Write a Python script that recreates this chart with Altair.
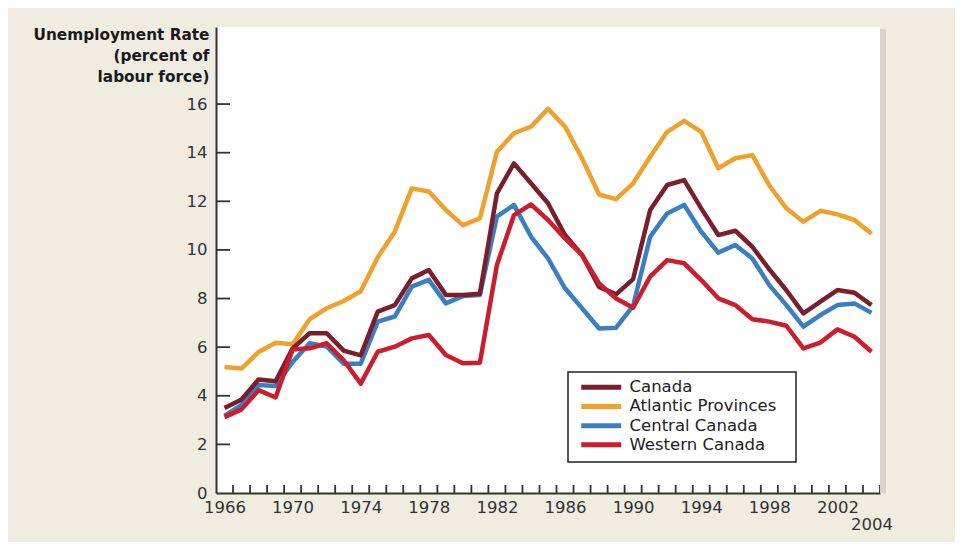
import altair as alt
import pandas as pd

# ---- data ----
years = list(range(1966, 2005))
canada = [3.5, 3.85, 4.67, 4.6, 5.95, 6.57, 6.57, 5.86, 5.66,
          7.46, 7.73, 8.83, 9.17, 8.15, 8.15, 8.2,
          12.33, 13.56, 12.74, 11.92, 10.61, 9.79, 8.48, 8.17,
          8.8, 11.64, 12.67, 12.87, 11.71, 10.61, 10.79, 10.13,
          9.2, 8.34, 7.39, 7.87, 8.35, 8.24, 7.73]
atlantic = [5.18, 5.12, 5.8, 6.18, 6.12, 7.15, 7.6, 7.9, 8.3,
            9.7, 10.75, 12.53, 12.4, 11.64, 11.02, 11.3,
            14.04, 14.8, 15.07, 15.8, 15.07, 13.77, 12.28, 12.09,
            12.74, 13.83, 14.86, 15.31, 14.86, 13.36, 13.77, 13.9,
            12.65, 11.71, 11.16, 11.61, 11.46, 11.23, 10.66]
central = [3.17, 3.62, 4.44, 4.4, 5.39, 6.16, 6.03, 5.32, 5.32,
           7.05, 7.26, 8.49, 8.77, 7.8, 8.1, 8.15,
           11.37, 11.85, 10.55, 9.65, 8.42, 7.6, 6.77, 6.8,
           7.7, 10.54, 11.5, 11.85, 10.75, 9.89, 10.2, 9.65,
           8.55, 7.73, 6.84, 7.32, 7.73, 7.8, 7.41]
western = [3.12, 3.44, 4.23, 3.93, 5.9, 5.95, 6.16, 5.46, 4.5,
           5.81, 6.02, 6.36, 6.5, 5.68, 5.34, 5.36,
           9.38, 11.43, 11.87, 11.23, 10.47, 9.79, 8.62, 8.0,
           7.62, 8.9, 9.58, 9.45, 8.76, 8.01, 7.73, 7.15,
           7.05, 6.88, 5.95, 6.19, 6.73, 6.43, 5.81]

series_names = ["Canada", "Atlantic Provinces", "Central Canada", "Western Canada"]
series_colors = ["#7b1e2c", "#f0a12b", "#3a7fc3", "#cc1d2c"]
draw_order = ["Atlantic Provinces", "Central Canada", "Canada", "Western Canada"]
y_tick_values = [2, 4, 6, 8, 10, 12, 14, 16]
x_label_years = [1966, 1970, 1974, 1978, 1982, 1986, 1990, 1994, 1998, 2002, 2004]
y_title = ["Unemployment Rate", "(percent of", "labour force)"]

values = {"Canada": canada, "Atlantic Provinces": atlantic,
          "Central Canada": central, "Western Canada": western}
rows = []
for name in draw_order:
    for yr, v in zip(years, values[name]):
        rows.append({"year": yr, "rate": v, "series": name})
df = pd.DataFrame(rows)

xtick_df = pd.DataFrame({"t": [y + 0.5 for y in years]})
ytick_df = pd.DataFrame({"v": y_tick_values})

W, H = 664, 466
FONT = "DejaVu Sans"
xscale = alt.Scale(domain=[1965.5, 2004.5], nice=False, zero=False)
yscale = alt.Scale(domain=[0, 19.17], nice=False)

x_axis = alt.Axis(
    values=x_label_years, title=None, ticks=False, tickSize=0, grid=False,
    labelExpr="datum.value == 2004 ? ['', '2004'] : '' + datum.value",
    labelOverlap=False, labelFlush=False, labelPadding=6,
    labelFontSize=16.5, labelLineHeight=17, labelColor="#333",
    domainColor="#333", domainWidth=2)
y_axis = alt.Axis(
    values=[0] + y_tick_values, title=y_title, ticks=False, tickSize=0, grid=False,
    labelPadding=9, labelFontSize=16.5, labelColor="#333",
    domainColor="#333", domainWidth=2,
    titleAngle=0, titleAlign="right", titleBaseline="top", titleX=-7, titleY=0,
    titleFontSize=15.3, titleFontWeight="bold", titleLineHeight=21, titleColor="#1a1a1a")

lines = alt.Chart(df).mark_line(strokeWidth=4.5, strokeJoin="round").encode(
    x=alt.X("year:Q", scale=xscale, axis=x_axis),
    y=alt.Y("rate:Q", scale=yscale, axis=y_axis),
    color=alt.Color("series:N", scale=alt.Scale(domain=series_names, range=series_colors),
                    legend=alt.Legend(
                        title=None, orient="none", legendX=352, legendY=345,
                        fillColor="white", strokeColor="#222", padding=7,
                        symbolType="M-4,0H4", symbolSize=100, symbolStrokeWidth=5,
                        symbolOffset=18, labelOffset=20, rowPadding=-1.8,
                        labelLimit=250,
                        labelExpr="datum.label + '\u2800'",
                        labelFontSize=16.5, labelColor="#222", labelFont=FONT)),
)

xticks = alt.Chart(xtick_df).mark_rule(color="#333", strokeWidth=1.8).encode(
    x=alt.X("t:Q", scale=xscale, axis=x_axis),
    y=alt.value(H), y2=alt.value(H - 8))

yticks = alt.Chart(ytick_df).mark_rule(color="#333", strokeWidth=1.8).encode(
    y=alt.Y("v:Q", scale=yscale, axis=y_axis),
    x=alt.value(0), x2=alt.value(14))

shadow = alt.Chart(xtick_df).mark_rule(color="#d6d4cd", strokeWidth=6).encode(
    x=alt.value(W + 3), y=alt.value(2), y2=alt.value(H))

chart = alt.layer(lines, xticks, yticks, shadow).properties(
    width=W, height=H,
    background="#f0ece2",
    padding={"left": 208, "top": 19, "right": 75, "bottom": 49},
    autosize=alt.AutoSizeParams(type="none"),
).configure_view(stroke=None, fill="white").configure_axis(
    labelFont=FONT, titleFont=FONT
).configure_legend(strokeWidth=1.5)

chart.save("out.html", embed_options={"renderer": "svg", "actions": False})
